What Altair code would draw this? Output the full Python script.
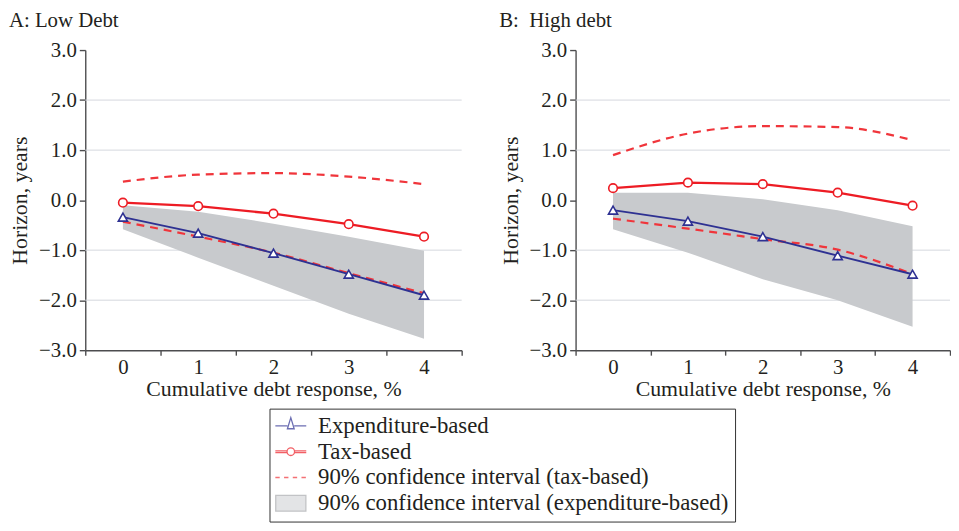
import altair as alt
import pandas as pd

FONT = "Liberation Serif"
TEXT = "#231f20"
BLUE = "#2e3192"
RED = "#ed1c24"
DASHRED = "#f0353b"
GREY = "#c8cacd"
GRIDC = "#d5d8de"

horizon = [0, 1, 2, 3, 4]

# Panel A: Low debt
tax_a = [-0.05, -0.12, -0.27, -0.48, -0.73]
exp_a = [-0.34, -0.66, -1.06, -1.48, -1.90]
tax_hi_a = [0.37, 0.51, 0.54, 0.47, 0.32]
tax_lo_a = [-0.43, -0.73, -1.05, -1.46, -1.86]
exp_hi_a = [-0.10, -0.23, -0.47, -0.73, -1.01]
exp_lo_a = [-0.58, -1.15, -1.71, -2.27, -2.77]

# Panel B: High debt
tax_b = [0.24, 0.35, 0.32, 0.15, -0.11]
exp_b = [-0.20, -0.42, -0.73, -1.11, -1.48]
tax_hi_b = [0.90, 1.33, 1.48, 1.46, 1.20]
tax_lo_b = [-0.37, -0.57, -0.78, -0.99, -1.48]
exp_hi_b = [0.15, 0.15, 0.02, -0.20, -0.52]
exp_lo_b = [-0.58, -1.05, -1.58, -2.00, -2.53]

titles = ["A: Low Debt", "B:\u00a0 High debt"]
x_title = "Cumulative debt response, %"
y_title = "Horizon, years"
y_ticks = [-3, -2, -1, 0, 1, 2, 3]
x_ticks = [-0.5, 0.5, 1.5, 2.5, 3.5, 4.5]
grid_values = [-2, -1, 1, 2]

legend_labels = [
    "Expenditure-based",
    "Tax-based",
    "90% confidence interval (tax-based)",
    "90% confidence interval (expenditure-based)",
]
legend_shapes = [
    "M-3.9,0H-0.85M0.85,0H3.9M-0.85,0.7L0,-2.1L0.85,0.7Z",
    "M-3.9,-0.2H-0.95M-3.9,0.2H-0.95M0.95,-0.2H3.9M0.95,0.2H3.9"
    "M0.95,0A0.95,0.95 0 1,1 -0.95,0A0.95,0.95 0 1,1 0.95,0",
    "M-3.9,0H-2.8M-1.7,0H-0.6M0.5,0H1.6M2.7,0H3.8",
    "M-3.8,-2H3.8V2H-3.8Z",
]
legend_strokes = [BLUE, RED, DASHRED, "#a9abae"]
legend_fills = ["white", "white", "white", GREY]


def panel(title, tax, exp, tax_hi, tax_lo, exp_hi, exp_lo, width, with_legend):
    df = pd.DataFrame({
        "h": horizon, "tax": tax, "exp": exp,
        "tax_hi": tax_hi, "tax_lo": tax_lo,
        "exp_hi": exp_hi, "exp_lo": exp_lo,
    })
    base = alt.Chart(df)
    xs = alt.Scale(domain=[-0.5, 4.5], nice=False, zero=False)
    ys = alt.Scale(domain=[-3, 3], nice=False, zero=False)
    x_axis = alt.Axis(
        values=x_ticks,
        labelExpr="datum.value < 4 ? format(datum.value + 0.5, 'd') : ''",
        labelOffset={"condition": {"test": "datum.value < 4", "value": width / 10}, "value": 0},
        labelFlush=False,
        labelOverlap=False,
        tickSize=5,
        labelPadding=2,
        title=x_title,
        titlePadding=1,
        grid=False,
    )
    y_axis = alt.Axis(
        values=y_ticks,
        format=".1f",
        tickSize=6,
        labelPadding=3,
        title=y_title,
        titlePadding=7,
        grid=False,
        labelFlush=False,
        labelOverlap=False,
    )

    X = alt.X("h:Q", scale=xs, axis=x_axis)

    grid = alt.Chart(pd.DataFrame({"g": grid_values})).mark_rule(
        color=GRIDC, strokeWidth=1
    ).encode(y=alt.Y("g:Q", scale=ys, axis=y_axis))

    band = base.mark_area(color=GREY, opacity=1).encode(
        x=X,
        y=alt.Y("exp_lo:Q", scale=ys, axis=y_axis),
        y2="exp_hi:Q",
    )
    dash_hi = base.mark_line(
        color=DASHRED, strokeWidth=2.2, strokeDash=[8, 6], interpolate="monotone"
    ).encode(x=X, y=alt.Y("tax_hi:Q", scale=ys, axis=y_axis))
    dash_lo = base.mark_line(
        color=DASHRED, strokeWidth=2.2, strokeDash=[8, 6], interpolate="monotone"
    ).encode(x=X, y=alt.Y("tax_lo:Q", scale=ys, axis=y_axis))
    exp_line = base.mark_line(color=BLUE, strokeWidth=2).encode(
        x=X, y=alt.Y("exp:Q", scale=ys, axis=y_axis)
    )
    tax_line = base.mark_line(color=RED, strokeWidth=2.4).encode(
        x=X, y=alt.Y("tax:Q", scale=ys, axis=y_axis)
    )
    exp_pts = base.mark_point(
        shape="triangle-up", filled=True, fill="white", stroke=BLUE,
        strokeWidth=1.6, size=85, opacity=1
    ).encode(x=X, y=alt.Y("exp:Q", scale=ys, axis=y_axis))
    tax_pts = base.mark_point(
        shape="circle", filled=True, fill="white", stroke=RED,
        strokeWidth=1.6, size=75, opacity=1
    ).encode(x=X, y=alt.Y("tax:Q", scale=ys, axis=y_axis))

    layers = [grid, band, dash_hi, dash_lo, exp_line, tax_line, exp_pts, tax_pts]

    if with_legend:
        leg = alt.Legend(
            title=None,
            orient="none",
            legendX=186,
            legendY=362,
            strokeColor="#333333",
            padding=6,
            symbolSize=64,
            symbolOffset=4,
            symbolStrokeWidth=1.3,
            labelOffset=16,
            rowPadding=2,
            labelFont=FONT,
            labelFontSize=23,
            labelColor=TEXT,
            labelLimit=0,
        )
        ldf = pd.DataFrame({"series": legend_labels})
        dummy = alt.Chart(ldf).mark_point(filled=False).encode(
            shape=alt.Shape("series:N", scale=alt.Scale(domain=legend_labels, range=legend_shapes), legend=leg),
            stroke=alt.Stroke("series:N", scale=alt.Scale(domain=legend_labels, range=legend_strokes), legend=leg),
            fill=alt.Fill("series:N", scale=alt.Scale(domain=legend_labels, range=legend_fills), legend=leg),
        ).transform_filter("false")
        layers.append(dummy)

    return alt.layer(*layers).properties(
        width=width, height=303,
        title=alt.TitleParams(
            title, anchor="start", frame="bounds", offset=8,
            font=FONT, fontSize=21, fontWeight="normal", color=TEXT,
        ),
    )


pa = panel(titles[0], tax_a, exp_a, tax_hi_a, tax_lo_a, exp_hi_a, exp_lo_a, 380, True)
pb = panel(titles[1], tax_b, exp_b, tax_hi_b, tax_lo_b, exp_hi_b, exp_lo_b, 378, False)

chart = alt.hconcat(pa, pb, spacing=115, bounds="flush").properties(
    padding=0
).configure_view(stroke=None).configure_axis(
    labelFont=FONT, titleFont=FONT, labelFontSize=21, titleFontSize=22,
    titleFontWeight="normal", labelColor=TEXT, titleColor=TEXT,
    domainColor="#4d4d4f", tickColor="#4d4d4f", domainWidth=1.4, tickWidth=1.4,
).configure_title(
    font=FONT, fontSize=21, fontWeight="normal", color=TEXT
)

chart.save("out.html", embed_options={"renderer": "svg", "actions": False})
